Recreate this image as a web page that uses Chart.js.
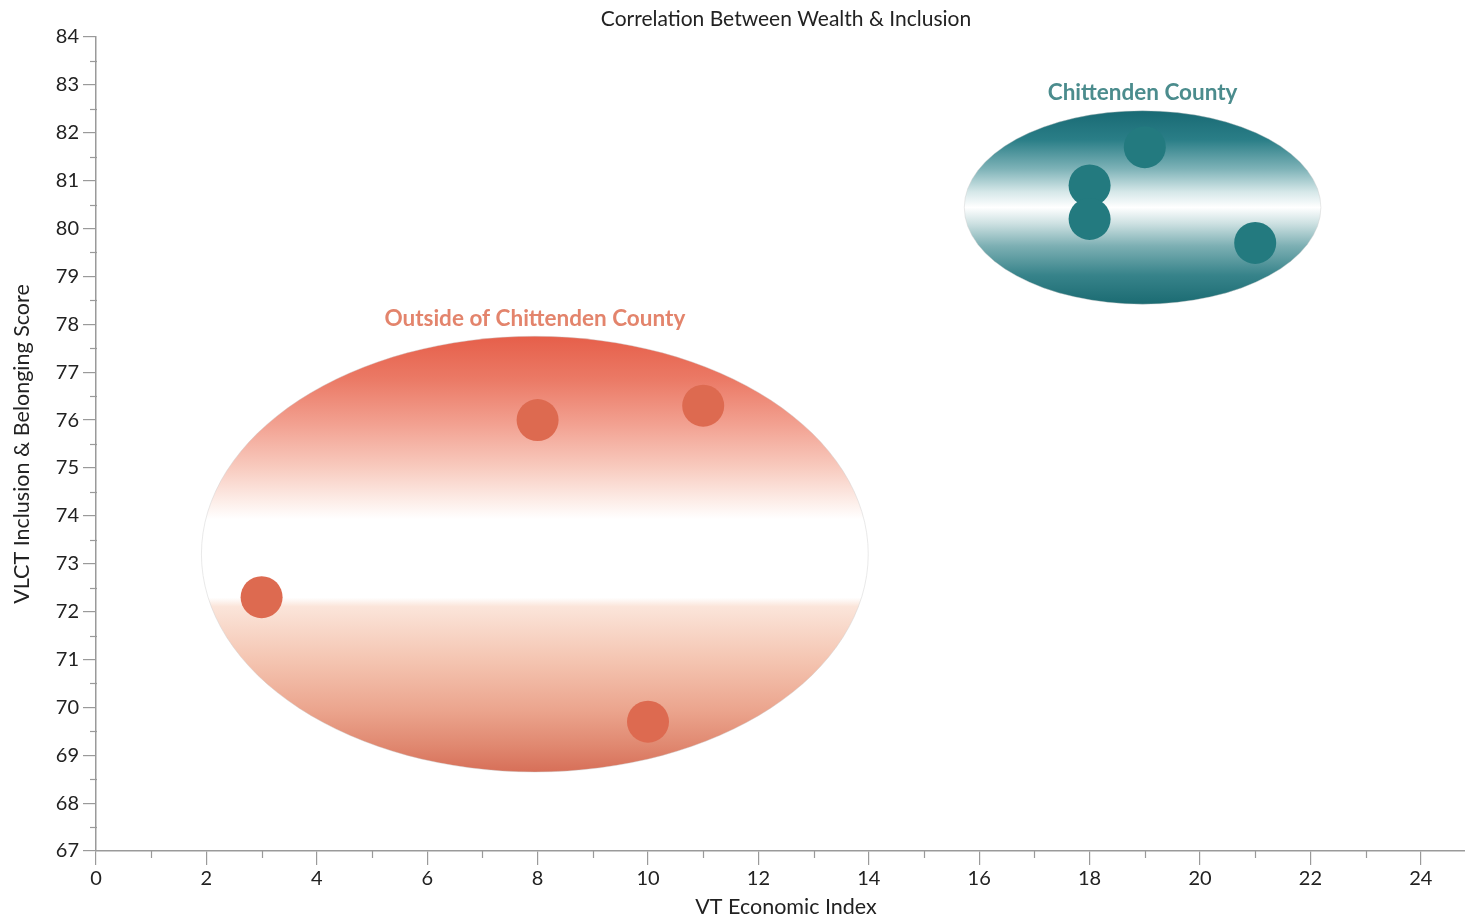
<!DOCTYPE html>
<html>
<head>
<meta charset="utf-8">
<title>Correlation Between Wealth &amp; Inclusion</title>
<script src="https://cdn.jsdelivr.net/npm/chart.js@4.4.1/dist/chart.umd.min.js"></script>
<style>
  html, body { margin: 0; padding: 0; background: #ffffff; overflow: hidden; }
  canvas { display: block; }
</style>
</head>
<body>
<!-- the 0-25 axis runs slightly past the right edge of the window -->
<canvas id="chart" width="1476" height="921"></canvas>
<script>
// Town-level scores: VT Economic Index (x) vs VLCT Inclusion & Belonging Score (y)
const outsideX = [3, 8, 11, 10];
const outsideY = [72.3, 76.0, 76.3, 69.7];
const chittendenX = [18, 18, 19, 21];
const chittendenY = [80.9, 80.2, 81.7, 79.7];

// Tick values for both axes
const xTicks = [0, 2, 4, 6, 8, 10, 12, 14, 16, 18, 20, 22, 24];
const yTicks = [67, 68, 69, 70, 71, 72, 73, 74, 75, 76, 77, 78, 79, 80, 81, 82, 83, 84];

// Group outlines in data units: [centre x, centre y, half width, half height]
const outsideGroup = [7.95, 73.2, 6.04, 4.55];
const chittendenGroup = [18.96, 80.44, 3.23, 2.02];

const groupNames = ['Outside of Chittenden County', 'Chittenden County'];
const chartTitle = 'Correlation Between Wealth & Inclusion';

const toPoints = (xs, ys) => xs.map((x, i) => ({ x: x, y: ys[i] }));

const FONT = 'Lato, "Open Sans", sans-serif';

// Soft banded fills for each group outline
function groupFill(ctx, top, bottom, stops) {
  const g = ctx.createLinearGradient(0, top, 0, bottom);
  stops.forEach(s => g.addColorStop(s[0], s[1]));
  return g;
}
const outsideStops = [
  [0.00, '#e65f4a'], [0.10, '#eb7a66'], [0.20, '#f2a090'], [0.30, '#f8cabe'],
  [0.38, '#fdeee9'], [0.42, '#ffffff'], [0.60, '#ffffff'], [0.62, '#fbe5da'],
  [0.75, '#f4c3af'], [0.86, '#eba48d'], [0.94, '#e08870'], [1.00, '#d76f58']
];
const chittendenStops = [
  [0.00, '#196a74'], [0.15, '#2a7e87'], [0.30, '#7db2b7'], [0.42, '#d6e8e9'],
  [0.50, '#ffffff'], [0.58, '#cfe2e3'], [0.70, '#7cafb3'], [0.85, '#37838a'],
  [1.00, '#1b6b72']
];

const groupPlugin = {
  id: 'groupOutlines',
  beforeDatasetsDraw(chart) {
    const { ctx, scales: { x, y } } = chart;
    const groups = [
      { g: outsideGroup, stops: outsideStops, label: groupNames[0], color: '#e3846c' },
      { g: chittendenGroup, stops: chittendenStops, label: groupNames[1], color: '#4b8c8d' }
    ];
    groups.forEach(item => {
      const cx = x.getPixelForValue(item.g[0]);
      const cy = y.getPixelForValue(item.g[1]);
      const rx = x.getPixelForValue(item.g[0] + item.g[2]) - cx;
      const ry = cy - y.getPixelForValue(item.g[1] + item.g[3]);
      ctx.save();
      ctx.beginPath();
      ctx.ellipse(cx, cy, rx, ry, 0, 0, Math.PI * 2);
      ctx.fillStyle = groupFill(ctx, cy - ry, cy + ry, item.stops);
      ctx.fill();
      ctx.lineWidth = 0.8;
      ctx.strokeStyle = 'rgba(200,200,200,0.5)';
      ctx.stroke();
      ctx.font = 'bold 22.5px ' + FONT;
      ctx.fillStyle = item.color;
      ctx.textAlign = 'center';
      ctx.textBaseline = 'middle';
      ctx.fillText(item.label, cx, cy - ry - 18);
      ctx.restore();
    });
  }
};

// Half-step minor ticks and a title centred over the plot area
const axisExtras = {
  id: 'axisExtras',
  afterDraw(chart) {
    const { ctx, chartArea, scales: { x, y } } = chart;
    ctx.save();
    ctx.strokeStyle = '#9a9a9a';
    ctx.lineWidth = 1.2;
    for (let i = 0; i < yTicks.length - 1; i++) {
      const py = Math.round(y.getPixelForValue((yTicks[i] + yTicks[i + 1]) / 2)) + 0.5;
      ctx.beginPath();
      ctx.moveTo(chartArea.left - 6, py);
      ctx.lineTo(chartArea.left + 1, py);
      ctx.stroke();
    }
    for (let i = 0; i < xTicks.length - 1; i++) {
      const px = Math.round(x.getPixelForValue((xTicks[i] + xTicks[i + 1]) / 2)) + 0.5;
      ctx.beginPath();
      ctx.moveTo(px, chartArea.bottom);
      ctx.lineTo(px, chartArea.bottom + 7);
      ctx.stroke();
    }
    ctx.font = '21px ' + FONT;
    ctx.fillStyle = '#222222';
    ctx.textAlign = 'center';
    ctx.textBaseline = 'middle';
    ctx.fillText(chartTitle, (chartArea.left + chartArea.right) / 2, 19);
    ctx.restore();
  }
};

new Chart(document.getElementById('chart'), {
  type: 'scatter',
  data: {
    datasets: [
      {
        label: groupNames[0],
        data: toPoints(outsideX, outsideY),
        backgroundColor: '#dd6a50',
        borderColor: '#dd6a50',
        pointRadius: 21,
        pointHoverRadius: 21,
        borderWidth: 0
      },
      {
        label: groupNames[1],
        data: toPoints(chittendenX, chittendenY),
        backgroundColor: '#237a7f',
        borderColor: '#237a7f',
        pointRadius: 21,
        pointHoverRadius: 21,
        borderWidth: 0
      }
    ]
  },
  options: {
    responsive: false,
    animation: false,
    events: [],
    layout: { autoPadding: false, padding: { top: 37, right: 0, bottom: 0, left: 0 } },
    plugins: {
      legend: { display: false },
      tooltip: { enabled: false },
      title: { display: false }
    },
    scales: {
      x: {
        type: 'linear',
        min: 0,
        max: 25,
        afterBuildTicks: s => { s.ticks = xTicks.map(v => ({ value: v })); },
        afterFit: s => { s.height = 70; },
        grid: { drawOnChartArea: false, drawTicks: true, tickLength: 14, color: '#9a9a9a', lineWidth: 1.2 },
        border: { display: true, color: '#9a9a9a', width: 1.5 },
        ticks: { color: '#222222', font: { family: FONT, size: 20 }, padding: 2, maxRotation: 0 },
        title: {
          display: true,
          text: 'VT Economic Index',
          color: '#222222',
          font: { family: FONT, size: 21.5 },
          padding: { top: 0, bottom: 1 }
        }
      },
      y: {
        type: 'linear',
        min: 67,
        max: 84,
        afterBuildTicks: s => { s.ticks = yTicks.map(v => ({ value: v })); },
        afterFit: s => { s.width = 96; },
        grid: { drawOnChartArea: false, drawTicks: true, tickLength: 13, color: '#9a9a9a', lineWidth: 1.2 },
        border: { display: true, color: '#9a9a9a', width: 1.5 },
        ticks: { color: '#222222', font: { family: FONT, size: 20 }, padding: 4 },
        title: {
          display: true,
          text: 'VLCT Inclusion & Belonging Score',
          color: '#222222',
          font: { family: FONT, size: 21.5 },
          padding: { top: 9, bottom: 0 }
        }
      }
    }
  },
  plugins: [groupPlugin, axisExtras]
});
</script>
</body>
</html>
